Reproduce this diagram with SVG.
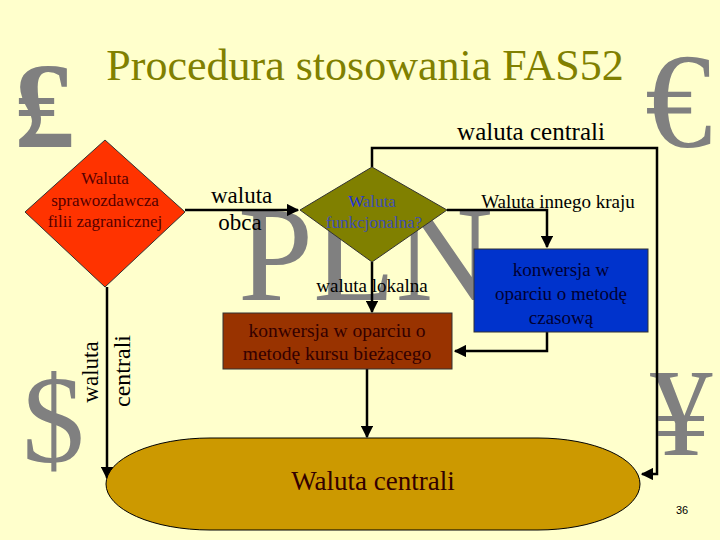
<svg xmlns="http://www.w3.org/2000/svg" width="720" height="540" viewBox="0 0 720 540">
<defs>
<marker id="ah" viewBox="0 0 10 10" refX="9" refY="5" markerWidth="5" markerHeight="5" orient="auto"><path d="M0,0 L10,5 L0,10 z" fill="#000"/></marker>
<style>
text{font-family:'Liberation Serif','Times New Roman',Tinos,'DejaVu Serif',serif}
.bg{fill:#808080}
.t{text-anchor:middle}
.c{fill:none;stroke:#000;stroke-width:2.5}
.n{stroke:#333;stroke-width:1}
</style>
</defs>
<rect width="720" height="540" fill="#FFFFCC"/>
<g id="decor">
<text class="bg" x="14" y="147" font-size="122" font-weight="bold">₤</text>
<text class="bg" x="645" y="147" font-size="135">€</text>
<text class="bg" x="22" y="462" font-size="125">$</text>
<text class="bg" x="650" y="455" font-size="125">¥</text>
<text class="bg" x="238" y="300" font-size="135">PLN</text>
</g>
<text id="title" class="t" x="365" y="80" font-size="44" fill="#808000">Procedura stosowania FAS52</text>
<g id="connectors">
<line class="c" x1="185" y1="210" x2="298" y2="210" marker-end="url(#ah)"/>
<line class="c" x1="372" y1="262" x2="372" y2="312" marker-end="url(#ah)"/>
<polyline class="c" points="447,210 547,210 547,247" marker-end="url(#ah)"/>
<polyline class="c" points="547,332 547,351 455,351" marker-end="url(#ah)"/>
<line class="c" x1="367" y1="369" x2="367" y2="437" marker-end="url(#ah)"/>
<polyline class="c" points="372,167 372,148 657,148 657,474 642,474" marker-end="url(#ah)"/>
<line class="c" x1="107" y1="287" x2="107" y2="478" marker-end="url(#ah)"/>
<text x="211" y="203" font-size="23">waluta</text>
<text class="t" x="240" y="230" font-size="23">obca</text>
<text class="t" x="372" y="292" font-size="19">waluta lokalna</text>
<text class="t" x="558" y="208" font-size="19">Waluta innego kraju</text>
<text class="t" x="531" y="140" font-size="25">waluta centrali</text>
<text class="t" x="0" y="0" font-size="23" transform="translate(98,372) rotate(-90)">waluta</text>
<text class="t" x="0" y="0" font-size="24" transform="translate(130,371) rotate(-90)">centrali</text>
</g>
<g id="n-red">
<polygon class="n" points="105,140 185,212 105,287 25,212" fill="#FF3300"/>
<text class="t" font-size="17" fill="#550000"><tspan x="105" y="184">Waluta</tspan><tspan x="105" y="206">sprawozdawcza</tspan><tspan x="105" y="227">filii zagranicznej</tspan></text>
</g>
<g id="n-olive">
<polygon class="n" points="372,167 447,210 372,262 300,210" fill="#808000"/>
<text class="t" font-size="17" fill="#3F4FB0"><tspan x="372" y="207"><tspan fill="#2233DD">W</tspan>aluta</tspan><tspan x="374" y="228">funkcjonalna?</tspan></text>
</g>
<g id="n-blue">
<rect class="n" x="474" y="249" width="174" height="83" fill="#0033CC"/>
<text class="t" font-size="19" fill="#000033"><tspan x="561" y="276">konwersja w</tspan><tspan x="561" y="300">oparciu o metodę</tspan><tspan x="561" y="324">czasową</tspan></text>
</g>
<g id="n-brown">
<rect class="n" x="223" y="313" width="229" height="56" fill="#993300"/>
<text class="t" font-size="19.5" fill="#330000"><tspan x="337" y="337">konwersja w oparciu o</tspan><tspan x="337" y="360">metodę kursu bieżącego</tspan></text>
</g>
<g id="n-oval">
<path d="M210,438 L538,438 A102,46 0 0 1 538,530 L210,530 A104,46 0 0 1 210,438 Z" fill="#CC9900" stroke="#000" stroke-width="1"/>
<text class="t" x="373" y="490" font-size="27" fill="#330000">Waluta centrali</text>
</g>
<text x="676" y="514" style="font-family:'Liberation Sans',Arial,sans-serif" font-size="11" fill="#000">36</text>
</svg>
